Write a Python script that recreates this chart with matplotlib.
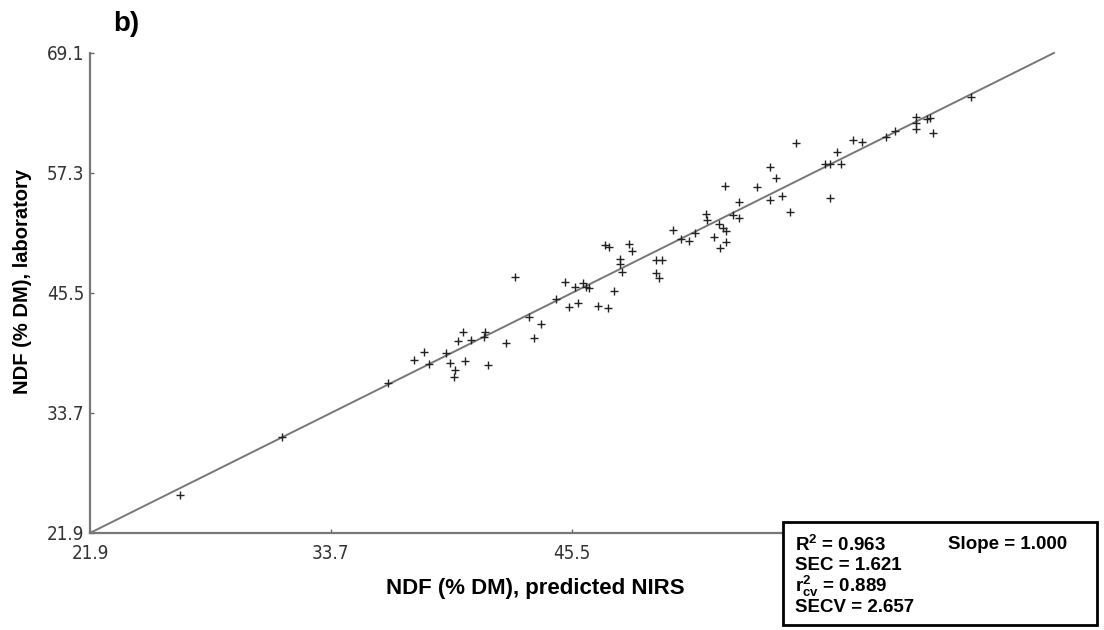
import matplotlib
matplotlib.use('Agg')
import matplotlib.pyplot as plt
from matplotlib.patches import Rectangle

# NDF (% DM): NIRS predicted (x) vs laboratory (y)
predicted = [26.33, 31.29, 36.50, 37.78, 38.27, 38.52, 39.35, 39.55, 39.75, 39.70,
             39.90, 40.14, 40.24, 40.58, 41.17, 41.22, 41.37, 42.26, 42.70, 43.39,
             43.63, 43.98, 44.71, 45.16, 45.35, 45.65, 45.80, 46.04, 46.19, 46.34,
             46.78, 47.27, 47.57, 47.12, 47.32, 47.86, 47.86, 47.96, 48.30, 48.45,
             49.63, 49.93, 49.63, 49.78, 50.47, 50.86, 51.25, 51.50, 52.04, 52.09,
             52.43, 52.68, 52.88, 53.02, 52.73, 53.02, 52.97, 53.37, 53.66, 53.66,
             54.55, 55.19, 55.19, 55.48, 55.78, 56.17, 56.46, 57.89, 58.14, 58.14,
             58.48, 58.68, 59.27, 59.71, 60.89, 61.33, 62.36, 62.36, 62.36, 62.86,
             63.05, 63.20, 65.02]
laboratory = [25.64, 31.34, 36.65, 38.91, 39.70, 38.52, 39.60, 38.62, 37.93, 37.24,
              40.78, 41.67, 38.81, 40.88, 41.17, 41.67, 38.42, 40.58, 47.07, 43.14,
              41.08, 42.45, 44.91, 46.58, 44.12, 46.09, 44.52, 46.48, 46.09, 45.99,
              44.22, 44.03, 45.70, 50.22, 50.02, 48.84, 48.35, 47.57, 50.32, 49.63,
              48.75, 48.75, 47.47, 46.98, 51.70, 50.81, 50.61, 51.40, 53.27, 52.68,
              51.01, 52.29, 51.89, 51.60, 49.93, 50.52, 56.02, 53.17, 54.45, 52.88,
              55.92, 57.89, 54.65, 56.81, 55.04, 53.47, 60.25, 58.19, 58.19, 54.84,
              59.37, 58.19, 60.55, 60.35, 60.84, 61.43, 62.81, 62.22, 61.63, 62.61,
              62.71, 61.23, 64.77]

ticks = [21.9, 33.7, 45.5, 57.3, 69.1]
y_tick_labels = ['21.9', '33.7', '45.5', '57.3', '69.1']
# the last two x labels are hidden under the stats box in the original
x_tick_labels = ['21.9', '33.7', '45.5', '', '']
stats_left = ['R$^2$ = 0.963', 'SEC = 1.621', 'r$^2_{cv}$ = 0.889', 'SECV = 2.657']
stats_right = 'Slope = 1.000'

plt.rcParams['font.family'] = ['Liberation Sans', 'DejaVu Sans']
plt.rcParams['mathtext.fontset'] = 'custom'
plt.rcParams['mathtext.rm'] = 'Liberation Sans:bold'
plt.rcParams['mathtext.bf'] = 'Liberation Sans:bold'
plt.rcParams['mathtext.default'] = 'bf'

narrow = ['Liberation Sans Narrow', 'DejaVu Sans Condensed', 'DejaVu Sans']

fig = plt.figure(figsize=(11.04, 6.3), dpi=100)
ax = fig.add_axes([0.0815, 0.154, 0.8732, 0.762])

# 1:1 line and samples
ax.plot([ticks[0], ticks[-1]], [ticks[0], ticks[-1]], color='#777777', lw=1.4, clip_on=False)
ax.plot(predicted, laboratory, linestyle='none', marker='+', ms=6, mew=1.0, color='#222222')

ax.set_xlim(ticks[0], ticks[-1])
ax.set_ylim(ticks[0], ticks[-1])
ax.set_xticks(ticks)
ax.set_yticks(ticks)
ax.set_xticklabels(x_tick_labels, family=narrow, fontstretch='condensed', fontsize=13.5, color='#333333')
ax.set_yticklabels(y_tick_labels, family=narrow, fontstretch='condensed', fontsize=13.5, color='#333333')
ax.tick_params(direction='in', length=3, width=1, color='#666666')
ax.tick_params(axis='x', pad=8)
ax.tick_params(axis='y', pad=4)

for side in ['top', 'right']:
    ax.spines[side].set_visible(False)
for side in ['left', 'bottom']:
    ax.spines[side].set_color('#777777')
    ax.spines[side].set_linewidth(1.6)

ax.set_xlabel('NDF (% DM), predicted NIRS', fontsize=16, fontweight='bold')
ax.xaxis.set_label_coords(0.462, -0.093)
ax.set_ylabel('NDF (% DM), laboratory', fontsize=14.5, fontweight='bold')
ax.yaxis.set_label_coords(-0.06, 0.525)

fig.text(0.103, 0.962, 'b)', fontsize=20, fontweight='bold', va='center')

# statistics box sitting over the lower right corner
box = Rectangle((0.709, 0.008), 0.285, 0.163, transform=fig.transFigure,
                facecolor='white', edgecolor='black', lw=2, zorder=5)
fig.patches.append(box)
for i, s in enumerate(stats_left):
    fig.text(0.720, 0.135 - i * 0.033, s, fontsize=13.5, fontweight='bold',
             va='center', zorder=6)
fig.text(0.859, 0.135, stats_right, fontsize=13.5, fontweight='bold', va='center', zorder=6)

fig.savefig('out.png', dpi=100)
